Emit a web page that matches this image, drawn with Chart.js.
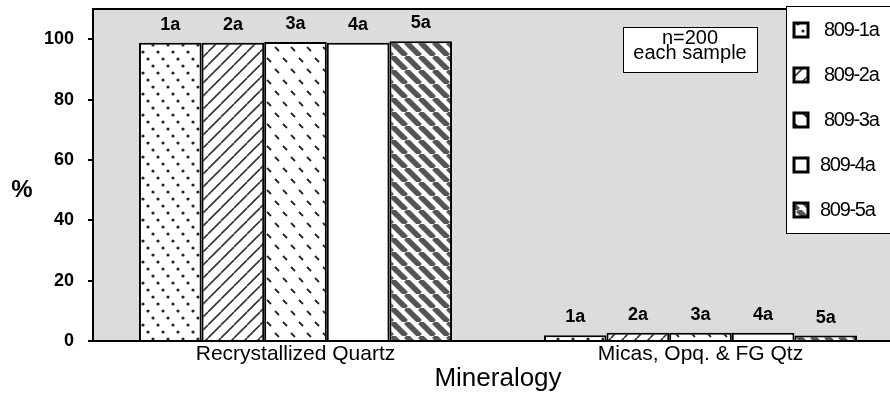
<!DOCTYPE html>
<html>
<head>
<meta charset="utf-8">
<script src="https://cdn.jsdelivr.net/npm/chart.js@4/dist/chart.umd.min.js"></script>
<style>
  html, body { margin: 0; padding: 0; background: #fff; overflow: hidden; }
  #wrap { width: 890px; height: 394px; overflow: hidden; }
  canvas { display: block; }
</style>
</head>
<body>
<div id="wrap"><canvas id="chart-mineralogy" width="903" height="394"></canvas></div>
<script>
// categories and sample series (percent of n=200 grains)
const categories = ['Recrystallized Quartz', 'Micas, Opq. & FG Qtz'];
const samples = ['809-1a', '809-2a', '809-3a', '809-4a', '809-5a'];
const s809_1a = [98.8, 1.9];
const s809_2a = [98.8, 2.7];
const s809_3a = [99.1, 2.7];
const s809_4a = [98.8, 2.7];
const s809_5a = [99.3, 1.8];
const yMax = 110;
const yStep = 20;
const noteLines = ['n=200', 'each sample'];

const BLACK = '#000';
const PLOT_BG = '#dcdcdc';

function tile(w, h, draw) {
  const c = document.createElement('canvas');
  c.width = w; c.height = h;
  const g = c.getContext('2d');
  g.fillStyle = '#fff';
  g.fillRect(0, 0, w, h);
  draw(g, w, h);
  return document.createElement('canvas').getContext('2d').createPattern(c, 'repeat');
}

const patterns = {
  dots: tile(15, 21, (g) => {
    g.fillStyle = '#222';
    [[3, 3], [8, 10], [13, 17]].forEach(([x, y]) => {
      g.beginPath(); g.arc(x, y, 1.6, 0, Math.PI * 2); g.fill();
    });
  }),
  thinFwd: tile(13, 13, (g, w, h) => {
    g.strokeStyle = '#333';
    g.lineWidth = 1.6;
    for (let o = -w; o <= w; o += w) {
      g.beginPath(); g.moveTo(o, h); g.lineTo(o + w, 0); g.stroke();
    }
  }),
  dashes: tile(16, 22, (g) => {
    g.strokeStyle = '#222';
    g.lineWidth = 1.8;
    [[3, 3], [11, 14]].forEach(([x, y]) => {
      g.beginPath(); g.moveTo(x, y); g.lineTo(x + 4, y + 4); g.stroke();
    });
  }),
  thickBack: tile(14, 14, (g, w, h) => {
    g.strokeStyle = '#555';
    g.lineWidth = 5.5;
    for (let o = -w; o <= w; o += w) {
      g.beginPath(); g.moveTo(o, 0); g.lineTo(o + w, h); g.stroke();
    }
  }),
};

const seriesFills = [patterns.dots, patterns.thinFwd, patterns.dashes, '#fff', patterns.thickBack];
const seriesValues = [s809_1a, s809_2a, s809_3a, s809_4a, s809_5a];

const datasets = samples.map((name, i) => ({
  label: name,
  data: seriesValues[i],
  backgroundColor: seriesFills[i],
  borderColor: BLACK,
  borderWidth: 2,
  categoryPercentage: 0.773,
  barPercentage: 1,
}));

const plotDecor = {
  id: 'plotDecor',
  beforeDraw(chart) {
    const { ctx, chartArea: a } = chart;
    ctx.save();
    ctx.fillStyle = PLOT_BG;
    ctx.fillRect(a.left, a.top, a.right - a.left, a.bottom - a.top);
    ctx.strokeStyle = BLACK;
    ctx.lineWidth = 2;
    ctx.beginPath();
    ctx.moveTo(a.left - 1, a.top);
    ctx.lineTo(a.right, a.top);
    ctx.stroke();
    ctx.restore();
  },
  afterDatasetsDraw(chart) {
    const { ctx } = chart;
    ctx.save();
    ctx.font = 'bold 18px Arial, "Liberation Sans", sans-serif';
    ctx.fillStyle = BLACK;
    ctx.textAlign = 'center';
    ctx.textBaseline = 'middle';
    chart.data.datasets.forEach((ds, i) => {
      chart.getDatasetMeta(i).data.forEach(bar => {
        ctx.fillText(ds.label.slice(4), bar.x, bar.y - 18);
      });
    });
    ctx.restore();
  },
  afterDraw(chart) {
    const { ctx } = chart;
    ctx.save();
    // y-axis title, upright
    ctx.font = 'bold 24px Arial, "Liberation Sans", sans-serif';
    ctx.fillStyle = BLACK;
    ctx.textAlign = 'center';
    ctx.textBaseline = 'middle';
    ctx.fillText('%', 22, 190);

    // n=200 note
    ctx.fillStyle = '#fff';
    ctx.fillRect(623, 27, 134, 45);
    ctx.strokeStyle = BLACK;
    ctx.lineWidth = 1;
    ctx.strokeRect(623.5, 27.5, 134, 45);
    ctx.fillStyle = BLACK;
    ctx.font = '20px Arial, "Liberation Sans", sans-serif';
    ctx.fillText(noteLines[0], 690, 38);
    ctx.fillText(noteLines[1], 690, 53);

    // legend box
    ctx.fillStyle = '#fff';
    ctx.fillRect(786, 6, 130, 227);
    ctx.strokeRect(786.5, 6.5, 130, 227);
    ctx.font = '20px Arial, "Liberation Sans", sans-serif';
    ctx.textAlign = 'left';
    ctx.letterSpacing = '-1.3px';
    chart.data.datasets.forEach((ds, i) => {
      const y = 30 + i * 45;
      ctx.fillStyle = ds.backgroundColor;
      ctx.fillRect(794, y - 7, 14, 14);
      ctx.lineWidth = 3;
      ctx.strokeStyle = BLACK;
      ctx.strokeRect(794, y - 7, 14, 14);
      ctx.fillStyle = BLACK;
      ctx.fillText(ds.label, i < 3 ? 824 : 820, y);
    });
    ctx.restore();
  },
};

new Chart(document.getElementById('chart-mineralogy'), {
  type: 'bar',
  data: { labels: categories, datasets },
  options: {
    responsive: false,
    animation: false,
    layout: { padding: { top: 9, right: 0, bottom: 0, left: 0 } },
    plugins: {
      legend: { display: false },
      tooltip: { enabled: false },
    },
    scales: {
      x: {
        grid: { display: true, drawOnChartArea: false, drawTicks: false },
        border: { display: true, color: BLACK, width: 2 },
        ticks: {
          color: BLACK,
          padding: 1,
          font: { family: 'Arial, "Liberation Sans", sans-serif', size: 21 },
        },
        title: {
          display: true,
          text: 'Mineralogy',
          color: BLACK,
          padding: 0,
          font: { family: 'Arial, "Liberation Sans", sans-serif', size: 26 },
        },
        afterFit: s => { s.height = 53; s.paddingLeft = 0; s.paddingRight = 0; },
      },
      y: {
        min: 0,
        max: yMax,
        ticks: {
          stepSize: yStep,
          color: BLACK,
          padding: 14,
          font: { family: 'Arial, "Liberation Sans", sans-serif', size: 18, weight: 'bold' },
        },
        afterBuildTicks: s => { s.ticks = s.ticks.filter(t => t.value <= 100); },
        grid: { drawOnChartArea: false, drawTicks: true, tickLength: 5, color: BLACK, lineWidth: 2 },
        border: { display: true, color: BLACK, width: 2 },
        afterFit: s => { s.width = 93; s.paddingTop = 0; s.paddingBottom = 0; },
      },
    },
  },
  plugins: [plotDecor],
});
</script>
</body>
</html>
